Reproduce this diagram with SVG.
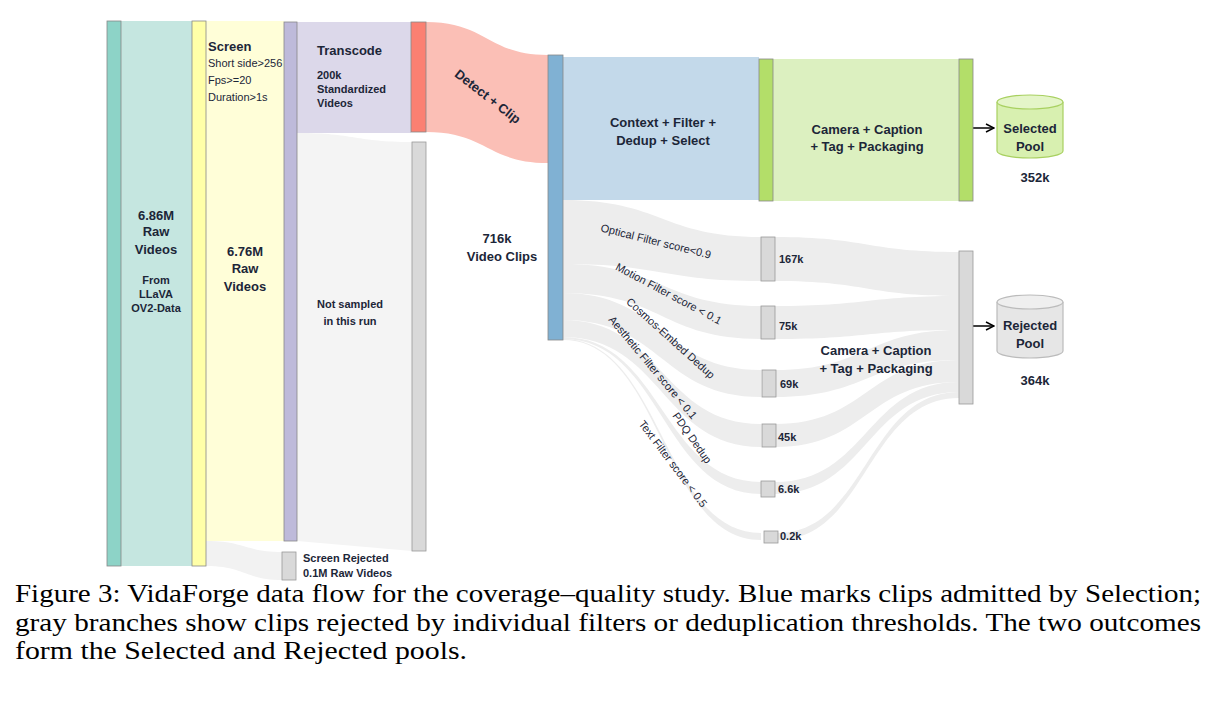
<svg xmlns="http://www.w3.org/2000/svg" width="1221" height="715" viewBox="0 0 1221 715">
<defs>
<style>
.t{font-family:"Liberation Sans",Arial,sans-serif;font-weight:bold;font-size:13px;fill:#1c2638}
.s{font-family:"Liberation Sans",Arial,sans-serif;font-weight:bold;font-size:11px;fill:#1c2638}
.f{font-family:"Liberation Sans",Arial,sans-serif;font-size:11px;fill:#1c2638}
.c{font-family:"Liberation Serif","Times New Roman",serif;font-size:26px;fill:#000}
.bar{stroke:#888;stroke-width:0.8}
.g{fill:#d9d9d9;stroke:#999;stroke-width:0.8}
.fl{fill:#ededed}
</style>
<marker id="ar" markerWidth="10" markerHeight="10" refX="9" refY="5" orient="auto" markerUnits="userSpaceOnUse"><path d="M1,1 L9,5 L1,9" fill="none" stroke="#000" stroke-width="1.5"/></marker>
</defs>
<rect width="1221" height="715" fill="#fff"/>
<g id="connectors">
<rect x="121" y="21" width="71" height="545" fill="#c5e6e0"/>
<rect x="206" y="21" width="78" height="520" fill="#fffed8"/>
<path d="M206,541 C245,541 245,552 283,552 L283,580 C245,580 245,566 206,566 Z" fill="#f2f2f2"/>
<rect x="297" y="22" width="114" height="111" fill="#dcd8ea"/>
<path d="M297,133 C355,133 355,142 412,142 L412,551 L297,541 Z" fill="#f4f4f4"/>
<path d="M426,22 C487,22 487,55 548,55 L548,163 C487,163 487,132 426,132 Z" fill="#fbbfb6"/>
<rect x="563" y="57" width="196" height="143" fill="#c3d9ea"/>
<rect x="773" y="59" width="186" height="142" fill="#dcf0c0"/>
<path class="fl" d="M563,200 C662,200 662,237 761,237 L761,281 C662,281 662,264 563,264 Z"/>
<path class="fl" d="M563,264 C662,264 662,306 761,306 L761,339 C662,339 662,293 563,293 Z"/>
<path class="fl" d="M563,293 C662,293 662,370 761,370 L761,397 C662,397 662,320 563,320 Z"/>
<path class="fl" d="M563,320 C662,320 662,424 761,424 L761,447 C662,447 662,337 563,337 Z"/>
<path class="fl" d="M563,337 C662,337 662,482 761,482 L761,494 C662,494 662,339 563,339 Z"/>
<path class="fl" d="M563,339 C662,339 662,533 761,533 L761,540 C662,540 662,340 563,340 Z"/>
<path class="fl" d="M775,237 C867,237 867,252 959,252 L959,296 C867,296 867,281 775,281 Z"/>
<path class="fl" d="M775,306 C867,306 867,296 959,296 L959,330 C867,330 867,339 775,339 Z"/>
<path class="fl" d="M775,370 C867,370 867,330 959,330 L959,360 C867,360 867,397 775,397 Z"/>
<path class="fl" d="M775,424 C867,424 867,360 959,360 L959,382 C867,382 867,447 775,447 Z"/>
<path class="fl" d="M775,482 C867,482 867,382 959,382 L959,392 C867,392 867,494 775,494 Z"/>
<path class="fl" d="M777,533 C867,533 867,392 959,392 L959,398 C867,398 867,540 777,540 Z"/>
<line x1="973" y1="128" x2="994" y2="128" stroke="#000" stroke-width="1.5" marker-end="url(#ar)"/>
<line x1="973" y1="326" x2="994" y2="326" stroke="#000" stroke-width="1.5" marker-end="url(#ar)"/>
</g>
<g id="raw"><rect class="bar" x="107" y="21" width="14" height="545" fill="#8dd3c7"/>
<text class="t" text-anchor="middle"><tspan x="156" y="220">6.86M</tspan><tspan x="156" y="236">Raw</tspan><tspan x="156" y="254">Videos</tspan></text>
<text class="s" text-anchor="middle"><tspan x="156" y="284">From</tspan><tspan x="156" y="298">LLaVA</tspan><tspan x="156" y="312">OV2-Data</tspan></text></g>
<g id="screen"><rect class="bar" x="192" y="21" width="14" height="545" fill="#ffffa8"/>
<text class="t" x="208" y="51">Screen</text>
<text class="f" font-size="9.5"><tspan x="208" y="67">Short side&gt;256</tspan><tspan x="208" y="84">Fps&gt;=20</tspan><tspan x="208" y="101">Duration&gt;1s</tspan></text>
<text class="t" text-anchor="middle"><tspan x="245" y="256">6.76M</tspan><tspan x="245" y="273">Raw</tspan><tspan x="245" y="291">Videos</tspan></text></g>
<g id="rejscreen"><rect class="g" x="282" y="552" width="14" height="28"/>
<text class="s"><tspan x="303" y="562">Screen Rejected</tspan><tspan x="303" y="577">0.1M Raw Videos</tspan></text></g>
<g id="transcode"><rect class="bar" x="284" y="22" width="13" height="519" fill="#bebada"/>
<text class="t" x="317" y="55">Transcode</text>
<text class="s" font-size="12"><tspan x="317" y="79">200k</tspan><tspan x="317" y="93">Standardized</tspan><tspan x="317" y="107">Videos</tspan></text>
<text class="s" font-size="12" text-anchor="middle"><tspan x="350" y="308">Not sampled</tspan><tspan x="350" y="325">in this run</tspan></text></g>
<g id="notsampled"><rect class="g" x="412" y="142" width="14" height="409"/></g>
<g id="detect"><rect class="bar" x="411" y="22" width="15" height="110" fill="#fb8072"/>
<text class="t" font-size="18" transform="translate(485,100) rotate(38)" text-anchor="middle">Detect + Clip</text></g>
<g id="clips"><rect class="bar" x="548" y="55" width="15" height="285" fill="#80b1d3"/>
<text class="t" text-anchor="middle"><tspan x="497" y="243">716k</tspan><tspan x="502" y="261">Video Clips</tspan></text></g>
<g id="select"><text class="t" text-anchor="middle"><tspan x="663" y="127">Context + Filter +</tspan><tspan x="663" y="145">Dedup + Select</tspan></text></g>
<g id="pack1"><rect class="bar" x="759" y="59" width="14" height="142" fill="#b3de69"/><rect class="bar" x="959" y="59" width="14" height="142" fill="#b3de69"/>
<text class="t" text-anchor="middle"><tspan x="867" y="134">Camera + Caption</tspan><tspan x="867" y="151">+ Tag + Packaging</tspan></text></g>
<g id="selpool"><path d="M997,102 L997,151 A33,7 0 0 0 1063,151 L1063,102" fill="#d8f0b0" stroke="#a8d060" stroke-width="1.2"/><ellipse cx="1030" cy="102" rx="33" ry="7" fill="#e4f5c8" stroke="#a8d060" stroke-width="1.2"/>
<text class="t" text-anchor="middle"><tspan x="1030" y="133">Selected</tspan><tspan x="1030" y="151">Pool</tspan></text>
<text class="t" x="1035" y="182" text-anchor="middle">352k</text></g>
<g id="rejpool"><path d="M997,302 L997,351 A33,7 0 0 0 1063,351 L1063,302" fill="#e6e6e6" stroke="#bbb" stroke-width="1.2"/><ellipse cx="1030" cy="302" rx="33" ry="7" fill="#efefef" stroke="#bbb" stroke-width="1.2"/>
<text class="t" text-anchor="middle"><tspan x="1030" y="330">Rejected</tspan><tspan x="1030" y="348">Pool</tspan></text>
<text class="t" x="1035" y="385" text-anchor="middle">364k</text></g>
<g id="filters">
<rect class="g" x="761" y="237" width="14" height="44"/><text class="s" x="779" y="263">167k</text>
<rect class="g" x="761" y="306" width="14" height="33"/><text class="s" x="779" y="330">75k</text>
<rect class="g" x="762" y="370" width="14" height="27"/><text class="s" x="780" y="388">69k</text>
<rect class="g" x="762" y="424" width="14" height="23"/><text class="s" x="778" y="441">45k</text>
<rect class="g" x="761" y="481" width="14" height="16"/><text class="s" x="778" y="493">6.6k</text>
<rect class="g" x="764" y="531" width="14" height="12"/><text class="s" x="780" y="540">0.2k</text>
<text class="f" transform="translate(655,245) rotate(14)" text-anchor="middle">Optical Filter score&lt;0.9</text>
<text class="f" transform="translate(667,297) rotate(28)" text-anchor="middle">Motion Filter score &lt; 0.1</text>
<text class="f" transform="translate(668,341) rotate(42)" text-anchor="middle">Cosmos-Embed Dedup</text>
<text class="f" transform="translate(650,370) rotate(50)" text-anchor="middle">Aesthetic Filter score &lt; 0.1</text>
<text class="f" transform="translate(689,440) rotate(55)" text-anchor="middle">PDQ Dedup</text>
<text class="f" transform="translate(670,466) rotate(53)" text-anchor="middle">Text Filter score &lt; 0.5</text>
</g>
<g id="pack2"><rect class="g" x="959" y="251" width="14" height="153"/>
<text class="t" text-anchor="middle"><tspan x="876" y="355">Camera + Caption</tspan><tspan x="876" y="373">+ Tag + Packaging</tspan></text></g>
<text class="c" x="15" y="602" textLength="1186" lengthAdjust="spacingAndGlyphs">Figure 3: VidaForge data flow for the coverage–quality study. Blue marks clips admitted by Selection;</text>
<text class="c" x="15" y="631" textLength="1186" lengthAdjust="spacingAndGlyphs">gray branches show clips rejected by individual filters or deduplication thresholds. The two outcomes</text>
<text class="c" x="15" y="659" textLength="452" lengthAdjust="spacingAndGlyphs">form the Selected and Rejected pools.</text>
</svg>
